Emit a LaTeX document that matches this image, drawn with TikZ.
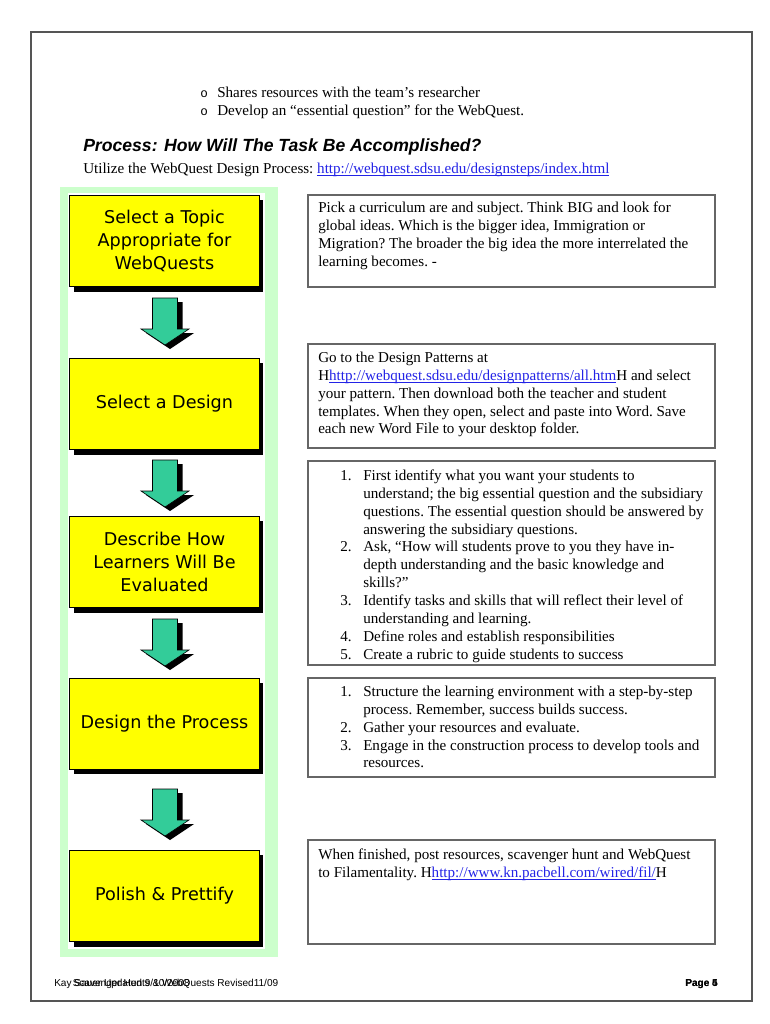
\documentclass[tikz,border=0pt]{standalone}
\usepackage{fontspec}
\setmainfont{Liberation Serif}
\newfontfamily\verdanafont{DejaVu Sans}
\newfontfamily\arialfont{Liberation Sans}
\newfontfamily\bulletfont{Liberation Mono}
\usepackage{xcolor}
\usetikzlibrary{shadows}

\definecolor{stepyellow}{HTML}{FFFF00}
\definecolor{colgreen}{HTML}{CCFFCC}
\definecolor{arrowgreen}{HTML}{33CC99}
\definecolor{linkblue}{HTML}{2323E6}
\definecolor{framegray}{HTML}{555555}
\definecolor{boxgray}{HTML}{666666}

\newcommand{\weblink}[1]{\textcolor{linkblue}{\underline{\smash{#1}}}}
\newcommand{\bodyfont}{\fontsize{12}{14.2}\selectfont\frenchspacing}

\begin{document}
\begin{tikzpicture}[x=0.795pt, y=-0.795pt,
  stepbox/.style={draw=black, fill=stepyellow, line width=0.6pt,
    minimum width=151pt, minimum height=72.5pt, align=center,
    font=\verdanafont\fontsize{14}{18.3}\selectfont,
    drop shadow={shadow xshift=3.2pt, shadow yshift=-4pt, fill=black, opacity=1}},
  notebox/.style={draw=boxgray, line width=1.1pt},
  notetext/.style={anchor=base west, inner sep=0pt, font=\bodyfont},
  foottext/.style={anchor=base west, inner sep=0pt, font=\arialfont\fontsize{8}{9}\selectfont},
  downarrow/.style={fill=arrowgreen, draw=black, line width=0.5pt}]

\useasboundingbox (0,0) rectangle (770,1024);

% Page frame
\draw[framegray, line width=1.5pt] (31,32) rectangle (752,1001);

% Bullets at top
\node[notetext, font=\bulletfont\fontsize{10}{12}\selectfont] (o1) at (200,97.5) {o};
\node[notetext] (share) at (217,97.5) {Shares resources with the team’s researcher};
\node[notetext, font=\bulletfont\fontsize{10}{12}\selectfont] (o2) at (200,115.5) {o};
\node[notetext] (develop) at (217,115.5) {Develop an “essential question” for the WebQuest.};

% Heading
\node[anchor=base west, inner sep=0pt, font=\arialfont\bfseries\itshape\fontsize{14}{16}\selectfont] (title) at (83,151.5) {Process: How Will The Task Be Accomplished?};
\node[notetext] (intro) at (83,173) {Utilize the WebQuest Design Process: \weblink{http://webquest.sdsu.edu/designsteps/index.html}};

% Left column
\fill[colgreen] (60,187) rectangle (278,957);
\fill[white] (68,193) rectangle (265,949);

\foreach \yc/\steptext [count=\i] in {241/{Select a Topic\\Appropriate for\\WebQuests}, 404/{Select a Design}, 562/{Describe How\\Learners Will Be\\Evaluated}, 723.5/{Design the Process}, 896/{Polish \& Prettify}}
  \node[stepbox] (step\i) at (164.5,\yc) {\steptext};

% Down arrows
\foreach \ya in {298,460,619,789}
{
  \fill[black] (157.5,\ya+4) -- (182.5,\ya+4) -- (182.5,\ya+35) -- (194,\ya+35) -- (170,\ya+51) -- (146,\ya+35) -- (157.5,\ya+35) -- cycle;
  \filldraw[downarrow] (152.5,\ya) -- (177.5,\ya) -- (177.5,\ya+31) -- (189,\ya+31) -- (165,\ya+47) -- (141,\ya+31) -- (152.5,\ya+31) -- cycle;
}

% Right column
\draw[notebox] (308,195) rectangle (715,287);
\node[notetext] (pick) at (318,212.5) {\begin{tabular}[t]{@{}l@{}}
Pick a curriculum are and subject. Think BIG and look for\\
global ideas. Which is the bigger idea, Immigration or\\
Migration? The broader the big idea the more interrelated the\\
learning becomes. -\end{tabular}};

\draw[notebox] (308,344) rectangle (715,448);
\node[notetext] (patterns) at (318,362.5) {\begin{tabular}[t]{@{}l@{}}
Go to the Design Patterns at\\
H\weblink{http://webquest.sdsu.edu/designpatterns/all.htm}H and select\\
your pattern. Then download both the teacher and student\\
templates. When they open, select and paste into Word. Save\\
each new Word File to your desktop folder.\end{tabular}};

\draw[notebox] (308,461) rectangle (715,665);
\node[notetext] (evaluate) at (340,480.5) {\begin{tabular}[t]{@{}p{18.3pt}@{}l@{}}
1. & First identify what you want your students to\\
   & understand; the big essential question and the subsidiary\\
   & questions. The essential question should be answered by\\
   & answering the subsidiary questions.\\
2. & Ask, “How will students prove to you they have in-\\
   & depth understanding and the basic knowledge and\\
   & skills?”\\
3. & Identify tasks and skills that will reflect their level of\\
   & understanding and learning.\\
4. & Define roles and establish responsibilities\\
5. & Create a rubric to guide students to success\end{tabular}};

\draw[notebox] (308,678) rectangle (715,777);
\node[notetext] (process) at (340,696.5) {\begin{tabular}[t]{@{}p{18.3pt}@{}l@{}}
1. & Structure the learning environment with a step-by-step\\
   & process. Remember, success builds success.\\
2. & Gather your resources and evaluate.\\
3. & Engage in the construction process to develop tools and\\
   & resources.\end{tabular}};

\draw[notebox] (308,840) rectangle (715,944);
\node[notetext] (polish) at (318,859.5) {\begin{tabular}[t]{@{}l@{}}
When finished, post resources, scavenger hunt and WebQuest\\
to Filamentality. H\weblink{http://www.kn.pacbell.com/wired/fil/}H\end{tabular}};

% Footer
\node[foottext] (kay) at (54,986) {Kay Sauer Updated 9/10/2008};
\node[foottext] (hunts) at (72.5,986) {Scavenger Hunts \& WebQuests Revised11/09};
\node[foottext, anchor=base east, font=\arialfont\bfseries\fontsize{8}{9}\selectfont] (page4) at (718,986) {Page 4};
\node[foottext, anchor=base east, font=\arialfont\bfseries\fontsize{8}{9}\selectfont] (page5) at (718,986) {Page 5};

\end{tikzpicture}
\end{document}
